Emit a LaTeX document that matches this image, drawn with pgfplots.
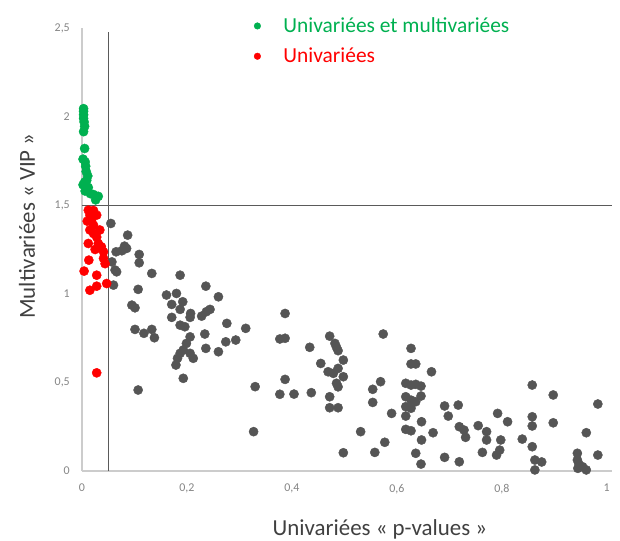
\documentclass[border=0pt]{standalone}
\usepackage{fontspec}
\setmainfont{Carlito}
\usepackage{pgfplots}
\pgfplotsset{compat=1.18}
\definecolor{cgreen}{HTML}{00B050}
\definecolor{cred}{HTML}{FF0000}
\definecolor{cgray}{HTML}{555555}
\definecolor{ctick}{HTML}{858585}
\definecolor{ctitle}{HTML}{404040}
\definecolor{caxis}{HTML}{CCCCCC}
\definecolor{cref}{HTML}{5A5A5A}
\begin{document}
\begin{tikzpicture}
\path[use as bounding box] (-82bp,-70bp) rectangle (538bp,471bp);
\begin{axis}[
  scale only axis,
  width=530bp, height=443bp,
  xmin=0, xmax=1.01, ymin=0, ymax=2.5,
  clip=false,
  axis lines*=left,
  axis line style={-, draw=caxis, line width=1.4bp},
  major tick length=0pt,
  xtick={0,0.2,0.4,0.6,0.8,1},
  ytick={0,0.5,1,1.5,2,2.5},
  /pgf/number format/.cd, use comma, assume math mode=true,
  /pgfplots/.cd,
  ticklabel style={font=\fontsize{12}{14}\selectfont, text=ctick, inner sep=0pt},
  xticklabel style={anchor=north, yshift=-13bp},
  yticklabel style={anchor=east, xshift=-12bp},
  xlabel={Univariées « p-values »},
  ylabel={Multivariées « VIP »},
  label style={font=\fontsize{23}{26}\selectfont, text=ctitle},
  xlabel style={at={(axis description cs:0.562,-0.1445)}, anchor=base},
  ylabel style={at={(axis description cs:-0.0887,0.553)}, anchor=base},
  legend style={at={(axis description cs:0.324,1.028)}, anchor=north west, draw=none, fill=none,
    font=\fontsize{21.5}{24}\selectfont, row sep=10bp, inner sep=0pt},
  legend cell align=left,
  legend image code/.code={\fill (0bp,0bp) circle (3.3bp); \path[draw=none,fill=none] (-3.3bp,-3bp) rectangle (24bp,3bp);},
]
% reference lines
\addplot[forget plot, draw=cref, line width=1bp, mark=none] coordinates {(0.051,0) (0.051,2.48)};
\addplot[forget plot, draw=cref, line width=1.1bp, mark=none] coordinates {(0,1.5) (1.01,1.5)};
% grey points
\addplot[forget plot, only marks, mark=*, mark size=4.6bp, color=cgray] coordinates {
(0.055,1.397) (0.087,1.331) (0.081,1.269) (0.065,1.237) (0.076,1.243) (0.085,1.256)
(0.109,1.222) (0.109,1.175) (0.057,1.180) (0.063,1.134) (0.066,1.124) (0.133,1.115)
(0.187,1.105) (0.060,1.049) (0.107,1.025) (0.236,1.043) (0.161,0.993) (0.180,1.002)
(0.260,0.983) (0.171,0.940) (0.192,0.955) (0.187,0.912) (0.095,0.936) (0.101,0.921)
(0.171,0.867) (0.207,0.889) (0.206,0.867) (0.228,0.874) (0.237,0.899) (0.244,0.912)
(0.276,0.833) (0.187,0.823) (0.196,0.814) (0.101,0.799) (0.118,0.777) (0.133,0.799)
(0.138,0.752) (0.234,0.773) (0.206,0.757) (0.274,0.729) (0.293,0.739) (0.260,0.673)
(0.236,0.692) (0.199,0.720) (0.193,0.683) (0.187,0.664) (0.182,0.636) (0.179,0.598)
(0.206,0.664) (0.212,0.636) (0.193,0.523) (0.107,0.457) (0.312,0.805) (0.387,0.889)
(0.377,0.745) (0.387,0.749) (0.387,0.517) (0.330,0.476) (0.377,0.433) (0.404,0.434)
(0.327,0.222) (0.434,0.698) (0.455,0.607) (0.437,0.442) (0.472,0.761) (0.482,0.720)
(0.485,0.698) (0.488,0.679) (0.498,0.626) (0.469,0.560) (0.479,0.551) (0.488,0.579)
(0.498,0.532) (0.485,0.495) (0.488,0.475) (0.472,0.419) (0.472,0.357) (0.488,0.357)
(0.498,0.103) (0.531,0.222) (0.558,0.105) (0.577,0.162) (0.554,0.461) (0.554,0.387)
(0.569,0.504) (0.574,0.773) (0.590,0.325) (0.617,0.495) (0.627,0.485) (0.636,0.489)
(0.646,0.479) (0.617,0.419) (0.627,0.400) (0.636,0.391) (0.646,0.423) (0.617,0.363)
(0.627,0.354) (0.617,0.310) (0.647,0.278) (0.617,0.235) (0.627,0.227) (0.647,0.175)
(0.669,0.216) (0.636,0.100) (0.646,0.039) (0.627,0.692) (0.627,0.604) (0.636,0.604)
(0.666,0.560) (0.691,0.367) (0.717,0.372) (0.698,0.310) (0.719,0.250) (0.728,0.231)
(0.731,0.190) (0.755,0.256) (0.691,0.077) (0.719,0.052) (0.763,0.105) (0.771,0.222)
(0.771,0.175) (0.792,0.325) (0.811,0.278) (0.798,0.175) (0.790,0.090) (0.796,0.118)
(0.839,0.180) (0.858,0.485) (0.858,0.306) (0.858,0.254) (0.858,0.137) (0.863,0.062)
(0.876,0.051) (0.863,0.006) (0.898,0.429) (0.898,0.272) (0.944,0.100) (0.944,0.062)
(0.947,0.039) (0.954,0.024) (0.961,0.006) (0.945,0.015) (0.961,0.216) (0.983,0.378)
(0.983,0.090)
};
% green points
\addplot[only marks, mark=*, mark size=4.6bp, color=cgreen] coordinates {
(0.003,2.045) (0.003,2.030) (0.003,2.010) (0.003,1.990) (0.004,1.970) (0.005,1.945)
(0.003,1.915) (0.005,1.820) (0.002,1.760) (0.006,1.745) (0.007,1.720) (0.011,1.665)
(0.009,1.640) (0.002,1.615) (0.012,1.600) (0.006,1.580) (0.016,1.565) (0.022,1.560)
(0.031,1.550) (0.026,1.530) (0.005,1.630) (0.008,1.690)
};
% red points
\addplot[only marks, mark=*, mark size=4.6bp, color=cred] coordinates {
(0.012,1.472) (0.022,1.470) (0.015,1.444) (0.028,1.444) (0.018,1.416) (0.022,1.387)
(0.015,1.360) (0.034,1.360) (0.022,1.340) (0.028,1.320) (0.012,1.284) (0.031,1.284)
(0.037,1.265) (0.041,1.237) (0.041,1.200) (0.044,1.170) (0.013,1.190) (0.004,1.128)
(0.028,1.105) (0.047,1.058) (0.028,1.043) (0.015,1.020) (0.028,0.554) (0.010,1.410)
(0.025,1.250)
};
\legend{\textcolor{cgreen}{Univariées et multivariées},\textcolor{cred}{Univariées}}
\end{axis}
\end{tikzpicture}
\end{document}
